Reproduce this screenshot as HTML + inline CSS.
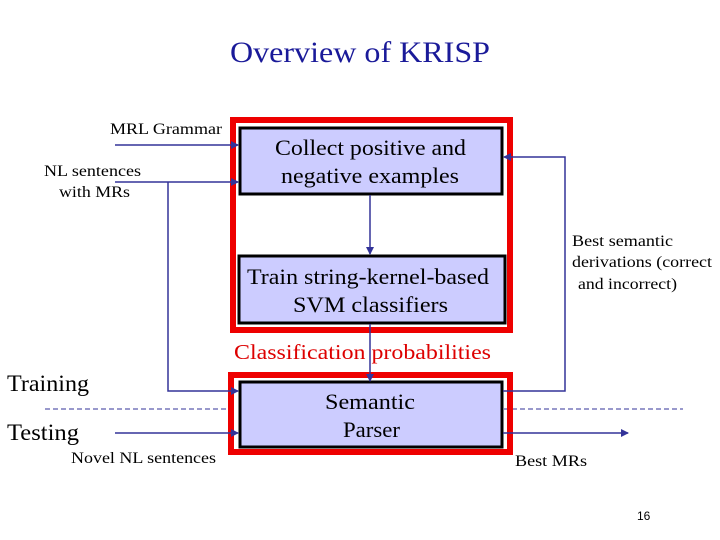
<!DOCTYPE html>
<html><head><meta charset="utf-8"><style>
html,body{margin:0;padding:0;background:#fff;}
svg{display:block;font-family:"Liberation Serif",serif;}
</style></head><body>
<svg width="720" height="540" viewBox="0 0 720 540" xmlns="http://www.w3.org/2000/svg">
<defs>
<marker id="a" markerWidth="8" markerHeight="8" refX="7" refY="4" orient="auto" markerUnits="userSpaceOnUse">
<path d="M0,0 L8,4 L0,8 z" fill="#333399"/></marker>
</defs>
<text x="230" y="62" font-size="30" fill="#1a1a99" textLength="260" lengthAdjust="spacingAndGlyphs">Overview of KRISP</text>
<line x1="45" y1="409" x2="236" y2="409" stroke="#333399" stroke-dasharray="5,3" stroke-width="1"/>
<line x1="504" y1="409" x2="683" y2="409" stroke="#333399" stroke-dasharray="5,3" stroke-width="1"/>
<rect x="233" y="120" width="277" height="210" fill="none" stroke="#ee0000" stroke-width="6"/>
<rect x="231" y="375" width="279" height="77" fill="none" stroke="#ee0000" stroke-width="6"/>
<rect x="240" y="128" width="262" height="66" fill="#ccccff" stroke="#000" stroke-width="3"/>
<rect x="239" y="256" width="266" height="67" fill="#ccccff" stroke="#000" stroke-width="3"/>
<rect x="240" y="382" width="262" height="65" fill="#ccccff" stroke="#000" stroke-width="3"/>
<g font-size="22" fill="#000" lengthAdjust="spacingAndGlyphs">
<text x="275" y="155" textLength="191" lengthAdjust="spacingAndGlyphs">Collect positive and</text>
<text x="281" y="183" textLength="178" lengthAdjust="spacingAndGlyphs">negative examples</text>
<text x="247" y="284" textLength="242" lengthAdjust="spacingAndGlyphs">Train string-kernel-based</text>
<text x="293" y="312" textLength="155" lengthAdjust="spacingAndGlyphs">SVM classifiers</text>
<text x="325" y="409" textLength="90" lengthAdjust="spacingAndGlyphs">Semantic</text>
<text x="343" y="437" textLength="57" lengthAdjust="spacingAndGlyphs">Parser</text>
</g>
<g stroke="#333399" stroke-width="1.5" fill="none">
<line x1="115" y1="145" x2="238" y2="145" marker-end="url(#a)"/>
<line x1="115" y1="182" x2="238" y2="182" marker-end="url(#a)"/>
<polyline points="168,182 168,391 238,391" marker-end="url(#a)"/>
<line x1="115" y1="433" x2="238" y2="433" marker-end="url(#a)"/>
<line x1="503" y1="433" x2="628" y2="433" marker-end="url(#a)"/>
<line x1="370" y1="195" x2="370" y2="254" marker-end="url(#a)"/>
<line x1="370" y1="324" x2="370" y2="381" marker-end="url(#a)"/>
<polyline points="503,391 565,391 565,157 504,157" marker-end="url(#a)"/>
</g>
<g font-size="16" fill="#000">
<text x="110" y="134" textLength="112" lengthAdjust="spacingAndGlyphs">MRL Grammar</text>
<text x="44" y="176" textLength="97" lengthAdjust="spacingAndGlyphs">NL sentences</text>
<text x="59" y="197" textLength="71" lengthAdjust="spacingAndGlyphs">with MRs</text>
<text x="572" y="246" textLength="101" lengthAdjust="spacingAndGlyphs">Best semantic</text>
<text x="572" y="267" textLength="140" lengthAdjust="spacingAndGlyphs">derivations (correct</text>
<text x="578" y="289" textLength="99" lengthAdjust="spacingAndGlyphs">and incorrect)</text>
<text x="71" y="463" textLength="145" lengthAdjust="spacingAndGlyphs">Novel NL sentences</text>
<text x="515" y="466" textLength="72" lengthAdjust="spacingAndGlyphs">Best MRs</text>
</g>
<text x="234" y="359" font-size="21" fill="#dd0000" textLength="257" lengthAdjust="spacingAndGlyphs">Classification probabilities</text>
<text x="7" y="391" font-size="23" textLength="82" lengthAdjust="spacingAndGlyphs">Training</text>
<text x="7" y="440" font-size="23" textLength="72" lengthAdjust="spacingAndGlyphs">Testing</text>
<text x="637" y="520" font-size="12" font-family="Liberation Sans,sans-serif">16</text>
</svg>
</body></html>
